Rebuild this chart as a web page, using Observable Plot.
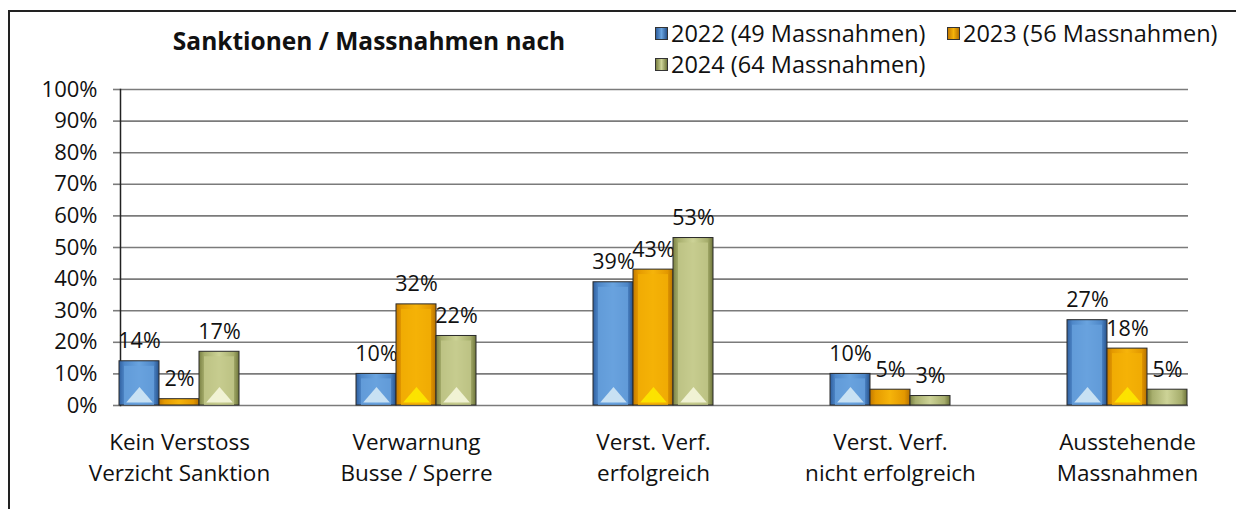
<!DOCTYPE html>
<html>
<head>
<meta charset="utf-8">
<script src="https://cdn.jsdelivr.net/npm/d3@7"></script>
<script src="https://cdn.jsdelivr.net/npm/@observablehq/plot@0.6"></script>
<style>
  html, body { margin: 0; padding: 0; background: #fff; }
  #wrap { position: relative; width: 1236px; height: 509px; overflow: hidden; font-family: "Open Sans", Lato, sans-serif; color: #111; font-variant-ligatures: none; }
  #border { position: absolute; left: 8px; top: 10px; width: 1400px; height: 700px; border-left: 2px solid #222; border-top: 2px solid #222; }
  #chart { position: absolute; left: 0; top: 0; }
  #title { position: absolute; left: 69px; width: 600px; top: 29px; text-align: center; font-weight: bold; font-size: 24.5px; line-height: 24px; white-space: nowrap; }
  .leg { position: absolute; display: flex; align-items: center; font-size: 23.5px; line-height: 23px; white-space: nowrap; }
  .sw { width: 11px; height: 11px; border: 1px solid #333; margin-right: 3px; }
</style>
</head>
<body>
<div id="wrap">
  <div id="border"></div>
  <div id="chart"></div>
  <div id="title">Sanktionen / Massnahmen nach</div>
  <div id="legend"></div>
</div>
<script>
// ---- data ----
const categories = [
  "Kein Verstoss\nVerzicht Sanktion",
  "Verwarnung\nBusse / Sperre",
  "Verst. Verf.\nerfolgreich",
  "Verst. Verf.\nnicht erfolgreich",
  "Ausstehende\nMassnahmen"
];
const seriesNames = ["2022 (49 Massnahmen)", "2023 (56 Massnahmen)", "2024 (64 Massnahmen)"];
const values2022 = [0.14, 0.10, 0.39, 0.10, 0.27];
const values2023 = [0.02, 0.32, 0.43, 0.05, 0.18];
const values2024 = [0.17, 0.22, 0.53, 0.03, 0.05];
const yTicks = [0, 0.1, 0.2, 0.3, 0.4, 0.5, 0.6, 0.7, 0.8, 0.9, 1.0];

// ---- styles ----
const gradients = [
  {id: "gBlue",   stops: ["#2f5f9f", "#4f88c9", "#6aa4df", "#4d86c7", "#27528c"], inner: "#68a1dd", tri: "#d3e8f5"},
  {id: "gOrange", stops: ["#c47a00", "#e59a00", "#f6b40a", "#e39800", "#b77200"], inner: "#f4b206", tri: "#fde800"},
  {id: "gGreen",  stops: ["#7a8143", "#a8af6e", "#cdd397", "#a6ad6c", "#6e753a"], inner: "#c4ca8c", tri: "#f5f6dc"}
];
const seriesValues = [values2022, values2023, values2024];
const groupWidth = 120;
const barW = groupWidth / 3;
const bevel = 5;
const font = "'Open Sans', Lato, sans-serif";

// flattened triangle highlight at the foot of each bar
const footSymbol = {
  draw(context, size) {
    const r = Math.sqrt(size / Math.PI);
    context.moveTo(-1.9 * r, r);
    context.lineTo(0, -1.2 * r);
    context.lineTo(1.9 * r, r);
    context.closePath();
  }
};

const rows = seriesValues.map((vals) => categories.map((c, j) => ({category: c, value: vals[j]})));

const marks = [
  Plot.ruleY(yTicks, {stroke: "#7b7b7b", strokeWidth: 1.6}),
  Plot.axisY({ticks: yTicks, tickFormat: d => `${Math.round(d * 100)}%`, tickSize: 7, tickPadding: 16,
              stroke: "#7b7b7b", strokeWidth: 1.6, fill: "#111", fontSize: 22}),
  Plot.axisX({tickSize: 0, tickPadding: 22, fontSize: 22.5, lineHeight: 1.38, fill: "#111"}),
  Plot.frame({anchor: "left", stroke: "#222", strokeWidth: 1.5})
];
rows.forEach((data, i) => {
  const insetLeft = i * barW;
  const insetRight = (2 - i) * barW;
  const dx = (i - 1) * barW;
  marks.push(Plot.barY(data, {x: "category", y: "value", fill: `url(#${gradients[i].id})`,
    stroke: "#2a2a2a", strokeWidth: 1, insetLeft, insetRight}));
  marks.push(Plot.barY(data.filter(d => d.value >= 0.06), {x: "category", y: "value", fill: gradients[i].inner,
    fillOpacity: 0.75, insetLeft: insetLeft + bevel, insetRight: insetRight + bevel, insetTop: bevel}));
  marks.push(Plot.dot(data.filter(d => d.value >= 0.08), {x: "category", frameAnchor: "bottom", dx, dy: -10,
    symbol: footSymbol, r: 7, fill: gradients[i].tri, fillOpacity: 0.9, stroke: "none"}));
  marks.push(Plot.text(data, {x: "category", y: "value", dx, dy: -20,
    text: d => `${Math.round(d.value * 100)}%`, fontSize: 21.5, fill: "#111"}));
});

const chart = Plot.plot({
  width: 1236,
  height: 509,
  marginTop: 89,
  marginBottom: 104,
  marginLeft: 120,
  marginRight: 48,
  style: {fontFamily: font, fontSize: "21px", color: "#111", background: "transparent", overflow: "visible", fontVariantLigatures: "none"},
  x: {domain: categories, range: [118, 1188], paddingInner: 0.4947, paddingOuter: 0, label: null},
  y: {domain: [0, 1], label: null},
  marks
});

// gradient defs
const ns = "http://www.w3.org/2000/svg";
const defs = document.createElementNS(ns, "defs");
gradients.forEach(g => {
  const lg = document.createElementNS(ns, "linearGradient");
  lg.setAttribute("id", g.id);
  lg.setAttribute("x1", "0"); lg.setAttribute("x2", "1"); lg.setAttribute("y1", "0"); lg.setAttribute("y2", "0");
  const offs = [0, 0.14, 0.5, 0.86, 1];
  g.stops.forEach((c, k) => {
    const s = document.createElementNS(ns, "stop");
    s.setAttribute("offset", offs[k]);
    s.setAttribute("stop-color", c);
    lg.appendChild(s);
  });
  defs.appendChild(lg);
});
chart.insertBefore(defs, chart.firstChild);
document.getElementById("chart").appendChild(chart);

// legend
const legendPos = [[655, 22], [947, 22], [655, 53]];
const legend = document.getElementById("legend");
seriesNames.forEach((name, i) => {
  const item = document.createElement("div");
  item.className = "leg";
  item.style.left = legendPos[i][0] + "px";
  item.style.top = legendPos[i][1] + "px";
  const sw = document.createElement("div");
  sw.className = "sw";
  const st = gradients[i].stops;
  sw.style.background = `linear-gradient(to right, ${st[0]}, ${st[2]} 50%, ${st[4]})`;
  const tx = document.createElement("span");
  tx.textContent = name;
  item.appendChild(sw);
  item.appendChild(tx);
  legend.appendChild(item);
});
</script>
</body>
</html>
